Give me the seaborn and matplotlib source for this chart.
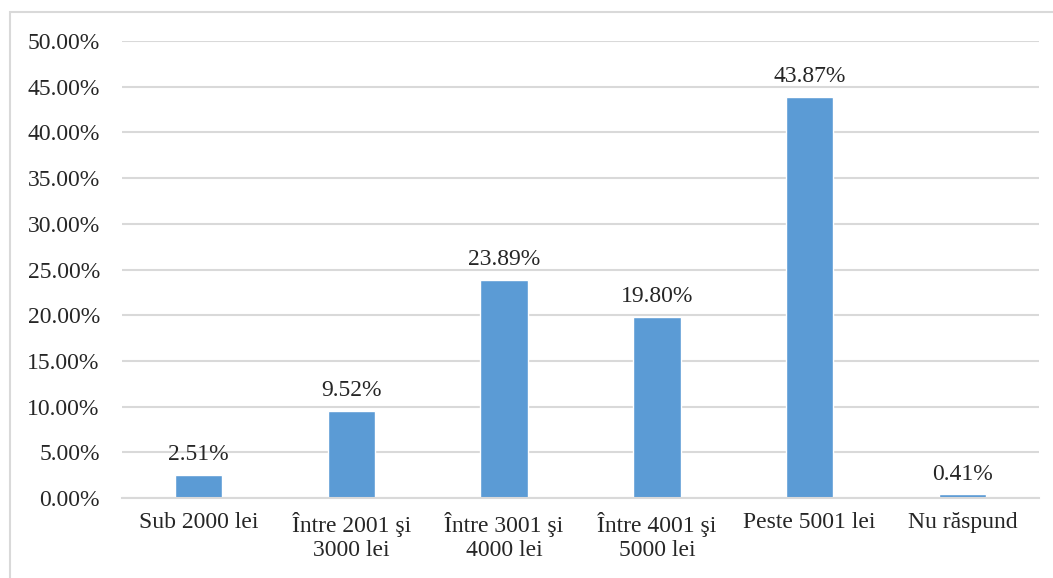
import seaborn as sns
import matplotlib.pyplot as plt
import matplotlib.patches as mpatches
from matplotlib.ticker import FuncFormatter, MultipleLocator

categories = ["Sub 2000 lei", "Între 2001 şi\n3000 lei", "Între 3001 şi\n4000 lei",
              "Între 4001 şi\n5000 lei", "Peste 5001 lei", "Nu răspund"]
values = [2.51, 9.52, 23.89, 19.80, 43.87, 0.41]
labels = ["2.51%", "9.52%", "23.89%", "19.80%", "43.87%", "0.41%"]

sns.set_style("white")
plt.rcParams["font.family"] = ["Liberation Serif", "DejaVu Serif"]

fig = plt.figure(figsize=(10.53, 5.78), dpi=100)
ax = fig.add_axes([122 / 1053, 1 - 498 / 578, (1039 - 122) / 1053, (498 - 41) / 578])

sns.barplot(x=categories, y=values, color="#5B9BD5", width=0.31, saturation=1, ax=ax)

ax.set_ylim(0, 50)
ax.set_xlim(-0.5, 5.5)
ax.yaxis.set_major_locator(MultipleLocator(5))
ax.yaxis.set_major_formatter(FuncFormatter(lambda v, p: f"{v:.2f}%"))
ax.grid(axis="y", color="#D9D9D9", linewidth=1.5)
ax.set_axisbelow(True)
for s in ["top", "right", "left"]:
    ax.spines[s].set_visible(False)
ax.spines["bottom"].set_color("#D9D9D9")
ax.spines["bottom"].set_linewidth(1.5)
ax.tick_params(axis="y", length=0, pad=16, labelsize=17)
ax.tick_params(axis="x", length=0, pad=10, labelsize=17)

for i, (v, t) in enumerate(zip(values, labels)):
    ax.annotate(t, (i, v), xytext=(0, 7), textcoords="offset points",
                ha="center", va="bottom", fontsize=17)

# outer chart border
fig.patches.append(mpatches.Rectangle((10 / 1053, -0.1), 1.2, 1 - 12 / 578 + 0.1,
                                      transform=fig.transFigure, fill=False,
                                      edgecolor="#D9D9D9", linewidth=1.5))

fig.savefig("out.png", dpi=100)
